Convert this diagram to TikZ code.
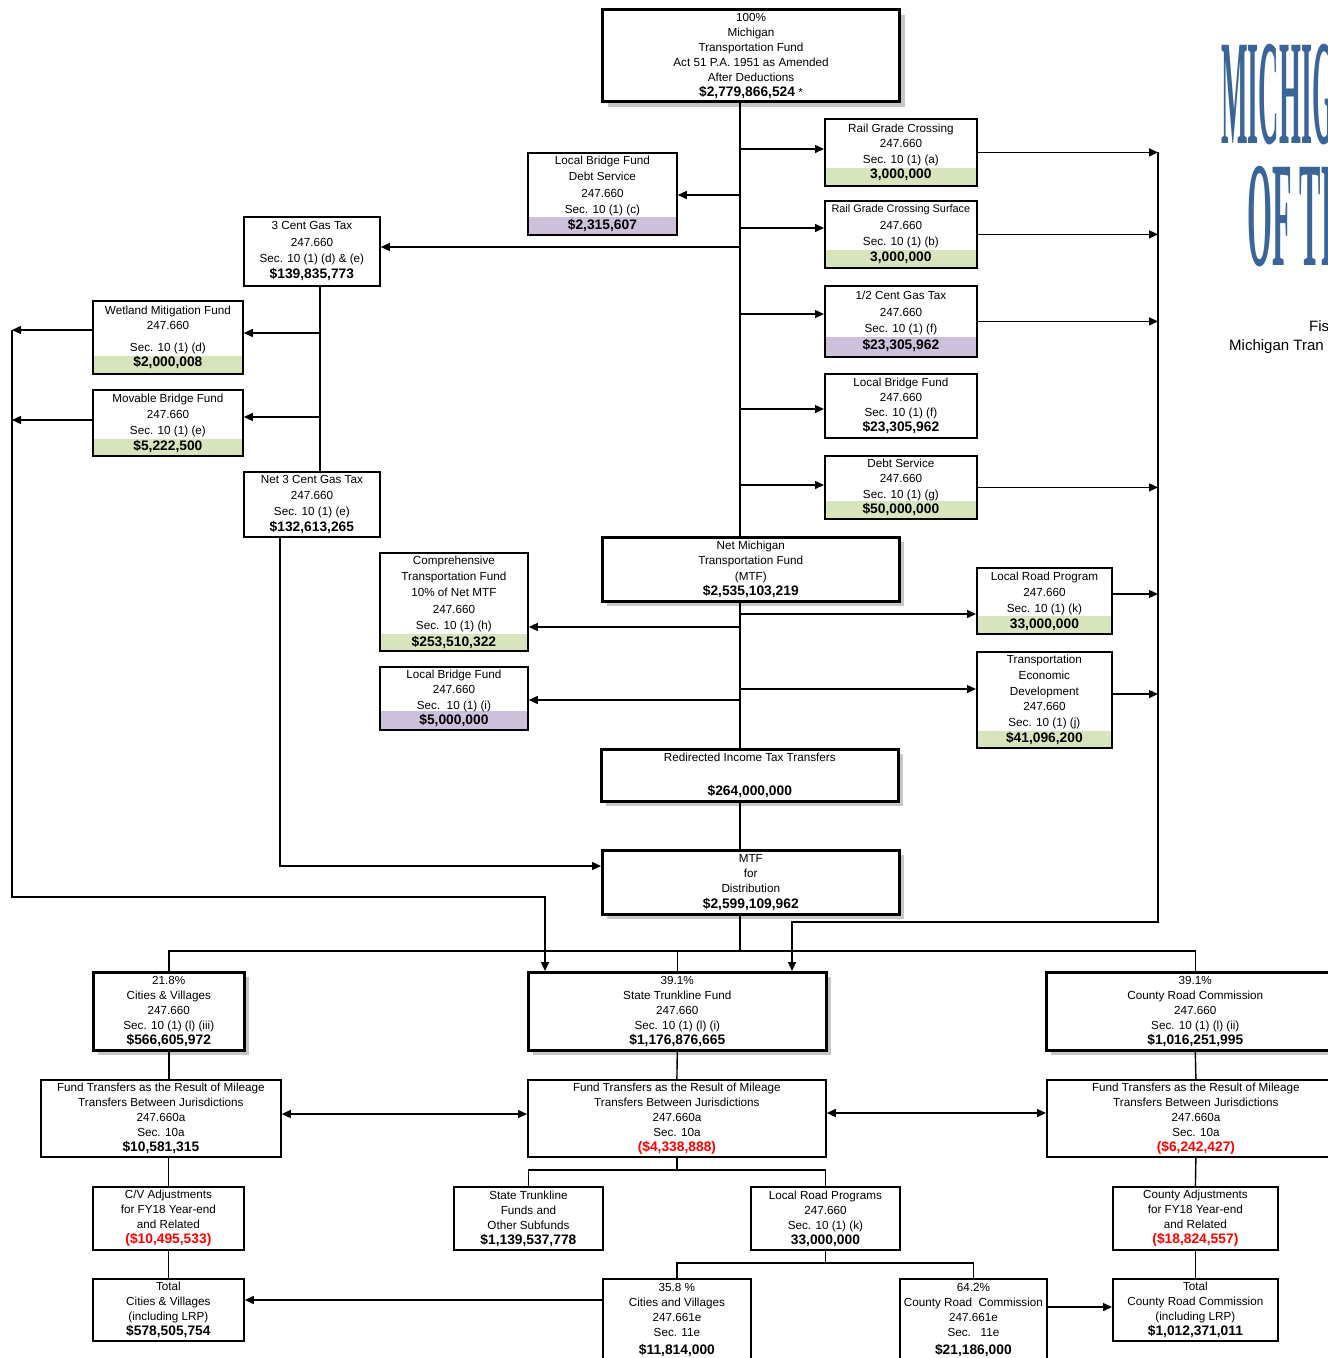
\documentclass[tikz,border=0pt]{standalone}
\usepackage{fontspec}
\setmainfont{Liberation Sans}
\newfontfamily\titlef[FakeStretch=0.188]{Liberation Serif}
\newfontfamily\titlefb[FakeStretch=0.214]{Liberation Serif}
\usetikzlibrary{arrows.meta,shadows,calc}
\definecolor{bandgreen}{HTML}{D8E4BC}
\definecolor{bandpurple}{HTML}{CCC0DA}
\definecolor{titleblue}{HTML}{3A6599}
\definecolor{negred}{HTML}{FF0000}
\newcommand\amt[1]{{\fontsize{13.8}{15.2}\selectfont\bfseries #1}}
\newcommand\negamt[1]{{\fontsize{13.8}{15.2}\selectfont\bfseries\color{negred}#1}}
\tikzset{
  box/.style={draw, line width=1.8pt, fill=white, inner sep=0pt, align=center,
    anchor=north west, font=\fontsize{11.7}{15.2}\selectfont},
  sbox/.style={box, line width=2.6pt,
    drop shadow={shadow xshift=5pt, shadow yshift=-5pt, fill=black!22, opacity=1}},
  ls/.style={font=\fontsize{11.7}{#1}\selectfont},
  gband/.style={path picture={\fill[bandgreen] (path picture bounding box.south west)
    rectangle ([yshift=#1]path picture bounding box.south east);}},
  gband/.default=18pt,
  pband/.style={path picture={\fill[bandpurple] (path picture bounding box.south west)
    rectangle ([yshift=#1]path picture bounding box.south east);}},
  pband/.default=18pt,
  ln/.style={line width=1.4pt},
  trunkln/.style={line width=2pt},
  arr/.style={ln, -{Triangle[length=9pt,width=8pt]}},
  darr/.style={ln, {Triangle[length=9pt,width=8pt]}-{Triangle[length=9pt,width=8pt]}},
  titletext/.style={anchor=base west, inner sep=0pt, text=titleblue, text height=100pt, text depth=0pt},
}
\begin{document}
\begin{tikzpicture}[x=1pt,y=-1pt]
\useasboundingbox (0,0) rectangle (1328,1358);
% title
\node[titletext, font=\fontsize{150}{150}\titlef\bfseries] (title1) at (1221,143) {MICHIG};
\node[titletext, font=\fontsize{150}{150}\titlefb\bfseries] (title2) at (1247,265) {OF TR};
\node[anchor=base west, inner sep=0pt, font=\fontsize{15}{18}\selectfont] (title3) at (1309,331) {Fis};
\node[anchor=base west, inner sep=0pt, font=\fontsize{15}{18}\selectfont] (title4) at (1229,350) {Michigan Tran};
% coordinates
\coordinate (trunk) at (740,0);
\coordinate (rbus) at (1158,0);
\coordinate (lbus) at (12,0);
\coordinate (gas) at (320,0);
\coordinate (rb1) at (1158,922);
\coordinate (rb2) at (792,922);
\coordinate (lb1) at (12,897);
\coordinate (lb2) at (545,897);
\coordinate (n3) at (280,866);
\coordinate (bus) at (0,951);
\coordinate (j1) at (0,1170);
\coordinate (j2) at (0,1263);
% top section
\node[sbox, line width=3pt, minimum width=297pt, minimum height=92pt, ls=15] (top) at (601,8)
 {100\%\\Michigan\\Transportation Fund\\Act 51 P.A. 1951 as Amended\\After Deductions\\\amt{\$2,779,866,524} *};
\node[box, pband=18pt, minimum width=149pt, minimum height=82pt, ls=16.3] (lbfds) at (527,152)
 {Local Bridge Fund\\Debt Service\\247.660\\Sec. 10 (1) (c)\\\amt{\$2,315,607}};
\node[box, minimum width=136pt, minimum height=69pt, ls=16.3] (g3) at (243,216)
 {3 Cent Gas Tax\\247.660\\Sec. 10 (1) (d) \& (e)\\\amt{\$139,835,773}};
\node[box, gband, minimum width=152pt, minimum height=67pt] (rgc) at (824,118)
 {Rail Grade Crossing\\247.660\\Sec. 10 (1) (a)\\\amt{3,000,000}};
\node[box, gband, minimum width=152pt, minimum height=67pt, ls=16.3] (rgcs) at (824,200)
 {{\fontsize{10.9}{14}\selectfont Rail Grade Crossing Surface}\\247.660\\Sec. 10 (1) (b)\\\amt{3,000,000}};
\node[box, pband=20pt, minimum width=152pt, minimum height=71pt, ls=16.8] (half) at (824,285)
 {1/2 Cent Gas Tax\\247.660\\Sec. 10 (1) (f)\\\amt{\$23,305,962}};
\node[box, minimum width=152pt, minimum height=64pt] (lbff) at (824,373)
 {Local Bridge Fund\\247.660\\Sec. 10 (1) (f)\\\amt{\$23,305,962}};
\node[box, gband, minimum width=152pt, minimum height=63pt] (debt) at (824,455)
 {Debt Service\\247.660\\Sec. 10 (1) (g)\\\amt{\$50,000,000}};
\node[box, gband, minimum width=150pt, minimum height=73pt] (wet) at (92,300)
 {Wetland Mitigation Fund\\247.660\\[7pt]Sec. 10 (1) (d)\\\amt{\$2,000,008}};
\node[box, gband=17pt, minimum width=150pt, minimum height=66pt, ls=16] (mov) at (92,389)
 {Movable Bridge Fund\\247.660\\Sec. 10 (1) (e)\\\amt{\$5,222,500}};
\node[box, minimum width=136pt, minimum height=65pt, ls=16] (net3) at (243,471)
 {Net 3 Cent Gas Tax\\247.660\\Sec. 10 (1) (e)\\\amt{\$132,613,265}};
\node[sbox, minimum width=297pt, minimum height=64pt] (netmtf) at (601,536)
 {Net Michigan\\Transportation Fund\\(MTF)\\\amt{\$2,535,103,219}};
\node[box, gband=17pt, minimum width=148pt, minimum height=98pt, ls=16.4] (ctf) at (379,552)
 {Comprehensive\\Transportation Fund\\10\% of Net MTF\\247.660\\Sec. 10 (1) (h)\\\amt{\$253,510,322}};
\node[box, pband=19pt, minimum width=148pt, minimum height=63pt] (lbfi) at (379,666)
 {Local Bridge Fund\\247.660\\Sec.\ \ 10 (1) (i)\\\amt{\$5,000,000}};
\node[box, gband, minimum width=135pt, minimum height=66pt, ls=16] (lrp) at (976,567)
 {Local Road Program\\247.660\\Sec. 10 (1) (k)\\\amt{33,000,000}};
\node[box, gband=17pt, minimum width=135pt, minimum height=96pt, ls=15.7] (ted) at (976,651)
 {Transportation\\Economic\\Development\\247.660\\Sec. 10 (1) (j)\\\amt{\$41,096,200}};
\node[sbox, minimum width=297pt, minimum height=52pt] (redir) at (600,748)
 {Redirected Income Tax Transfers\\[19pt]\amt{\$264,000,000}};
\node[sbox, minimum width=297pt, minimum height=64pt] (mtfd) at (601,849)
 {MTF\\for\\Distribution\\\amt{\$2,599,109,962}};
% bottom section
\node[sbox, minimum width=151pt, minimum height=78pt, ls=15] (cv) at (92,971)
 {21.8\%\\Cities \& Villages\\247.660\\Sec. 10 (1) (l) (iii)\\\amt{\$566,605,972}};
\node[sbox, minimum width=298pt, minimum height=78pt, ls=15] (st) at (527,971)
 {39.1\%\\State Trunkline Fund\\247.660\\Sec. 10 (1) (l) (i)\\\amt{\$1,176,876,665}};
\node[sbox, minimum width=298pt, minimum height=78pt, ls=15] (cr) at (1045,971)
 {39.1\%\\County Road Commission\\247.660\\Sec. 10 (1) (l) (ii)\\\amt{\$1,016,251,995}};
\node[box, minimum width=240pt, minimum height=77pt, ls=15] (ftl) at (40,1079)
 {Fund Transfers as the Result of Mileage\\Transfers Between Jurisdictions\\247.660a\\Sec. 10a\\\amt{\$10,581,315}};
\node[box, minimum width=298pt, minimum height=77pt, ls=15] (ftm) at (527,1079)
 {Fund Transfers as the Result of Mileage\\Transfers Between Jurisdictions\\247.660a\\Sec. 10a\\\negamt{(\$4,338,888)}};
\node[box, minimum width=298pt, minimum height=77pt, ls=15] (ftr) at (1046,1079)
 {Fund Transfers as the Result of Mileage\\Transfers Between Jurisdictions\\247.660a\\Sec. 10a\\\negamt{(\$6,242,427)}};
\node[box, minimum width=151pt, minimum height=63pt, ls=15] (cva) at (92,1186)
 {C/V Adjustments\\for FY18 Year-end\\and Related\\\negamt{(\$10,495,533)}};
\node[box, minimum width=149pt, minimum height=63pt, ls=15] (stf) at (453,1186)
 {State Trunkline\\Funds and\\Other Subfunds\\\amt{\$1,139,537,778}};
\node[box, minimum width=149pt, minimum height=63pt, ls=15] (lrps) at (750,1186)
 {Local Road Programs\\247.660\\Sec. 10 (1) (k)\\\amt{33,000,000}};
\node[box, minimum width=165pt, minimum height=63pt, ls=15] (ca) at (1112,1186)
 {County Adjustments\\for FY18 Year-end\\and Related\\\negamt{(\$18,824,557)}};
\node[box, minimum width=151pt, minimum height=62pt, ls=15] (tcv) at (92,1278)
 {Total\\Cities \& Villages\\(including LRP)\\\amt{\$578,505,754}};
\node[box, minimum width=148pt, minimum height=82pt, ls=15] (cv2) at (602,1278)
 {35.8 \%\\Cities and Villages\\247.661e\\Sec. 11e\\[3pt]\amt{\$11,814,000}};
\node[box, minimum width=147pt, minimum height=82pt, ls=15] (cr2) at (899,1278)
 {64.2\%\\County Road\ \ Commission\\247.661e\\Sec.\ \ \ 11e\\[3pt]\amt{\$21,186,000}};
\node[box, minimum width=165pt, minimum height=62pt, ls=15] (tcr) at (1112,1278)
 {Total\\County Road Commission\\(including LRP)\\\amt{\$1,012,371,011}};
% trunk
\draw[trunkln] (top.south -| trunk) -- (netmtf.north -| trunk);
\draw[trunkln] (netmtf.south -| trunk) -- (redir.north -| trunk);
\draw[trunkln] (redir.south -| trunk) -- (mtfd.north -| trunk);
\draw[trunkln] (mtfd.south -| trunk) -- (trunk |- bus);
% trunk to right boxes
\draw[arr] (trunk |- 0,149) -- (rgc.west |- 0,149);
\draw[arr] (trunk |- 0,228) -- (rgcs.west |- 0,228);
\draw[arr] (trunk |- 0,314) -- (half.west |- 0,314);
\draw[arr] (trunk |- 0,409) -- (lbff.west |- 0,409);
\draw[arr] (trunk |- 0,485) -- (debt.west |- 0,485);
% trunk to left boxes
\draw[arr] (trunk |- 0,195) -- (lbfds.east |- 0,195);
\draw[arr] (trunk |- 0,247) -- (g3.east |- 0,247);
% right outputs
\draw[arr] (rgc.east) -- (rbus |- rgc.east);
\draw[arr] (rgcs.east) -- (rbus |- rgcs.east);
\draw[arr] (half.east) -- (rbus |- half.east);
\draw[arr] (debt.east) -- (rbus |- debt.east);
\draw[arr] (lrp.east |- 0,594) -- (rbus |- 0,594);
\draw[arr] (ted.east |- 0,694) -- (rbus |- 0,694);
\draw[arr] (rbus |- rgc.east) -- (rb1) -- (rb2) -- (rb2 |- st.north);
% 3 cent gas tax branch
\draw[ln] (g3.south -| gas) -- (net3.north -| gas);
\draw[arr] (gas |- 0,333) -- (wet.east |- 0,333);
\draw[arr] (gas |- 0,417) -- (mov.east |- 0,417);
\draw[arr] (wet.west |- 0,330) -- (lbus |- 0,330);
\draw[arr] (mov.west |- 0,420) -- (lbus |- 0,420);
\draw[arr] (lbus |- 0,330) -- (lb1) -- (lb2) -- (lb2 |- st.north);
\draw[arr] (net3.south -| n3) -- (n3) -- (mtfd.west |- n3);
% net MTF outputs
\draw[arr] (trunk |- 0,627) -- (ctf.east |- 0,627);
\draw[arr] (trunk |- 0,700) -- (lbfi.east |- 0,700);
\draw[arr] (trunk |- 0,614) -- (lrp.west |- 0,614);
\draw[arr] (trunk |- 0,689) -- (ted.west |- 0,689);
% distribution bus
\draw[ln] (cv.north) -- (cv.north |- bus) -- (cr.north |- bus) -- (cr.north);
\draw[ln] (st.north) -- (st.north |- bus);
% bottom connectors
\draw[ln] (cv.south) -- (cv.south |- ftl.north);
\draw[ln] (cva.north |- ftl.south) -- (cva.north);
\draw[ln] (cva.south) -- (tcv.north);
\draw[ln] (st.south) -- (ftm.north);
\draw[ln] (cr.south) -- (ftr.north);
\draw[ln] (ftr.south) -- (ca.north);
\draw[ln] (ca.south) -- (tcr.north);
\draw[darr] (ftl.east |- 0,1114) -- (ftm.west |- 0,1114);
\draw[darr] (ftm.east |- 0,1113) -- (ftr.west |- 0,1113);
\draw[ln] (ftm.south) -- (ftm.south |- j1);
\draw[ln] (stf.north) -- (stf.north |- j1) -- (lrps.north |- j1) -- (lrps.north);
\draw[ln] (lrps.south) -- (lrps.south |- j2);
\draw[ln] (cv2.north) -- (cv2.north |- j2) -- (cr2.north |- j2) -- (cr2.north);
\draw[arr] (cv2.west |- 0,1300) -- (tcv.east |- 0,1300);
\draw[arr] (cr2.east |- 0,1307) -- (tcr.west |- 0,1307);
\end{tikzpicture}
\end{document}
